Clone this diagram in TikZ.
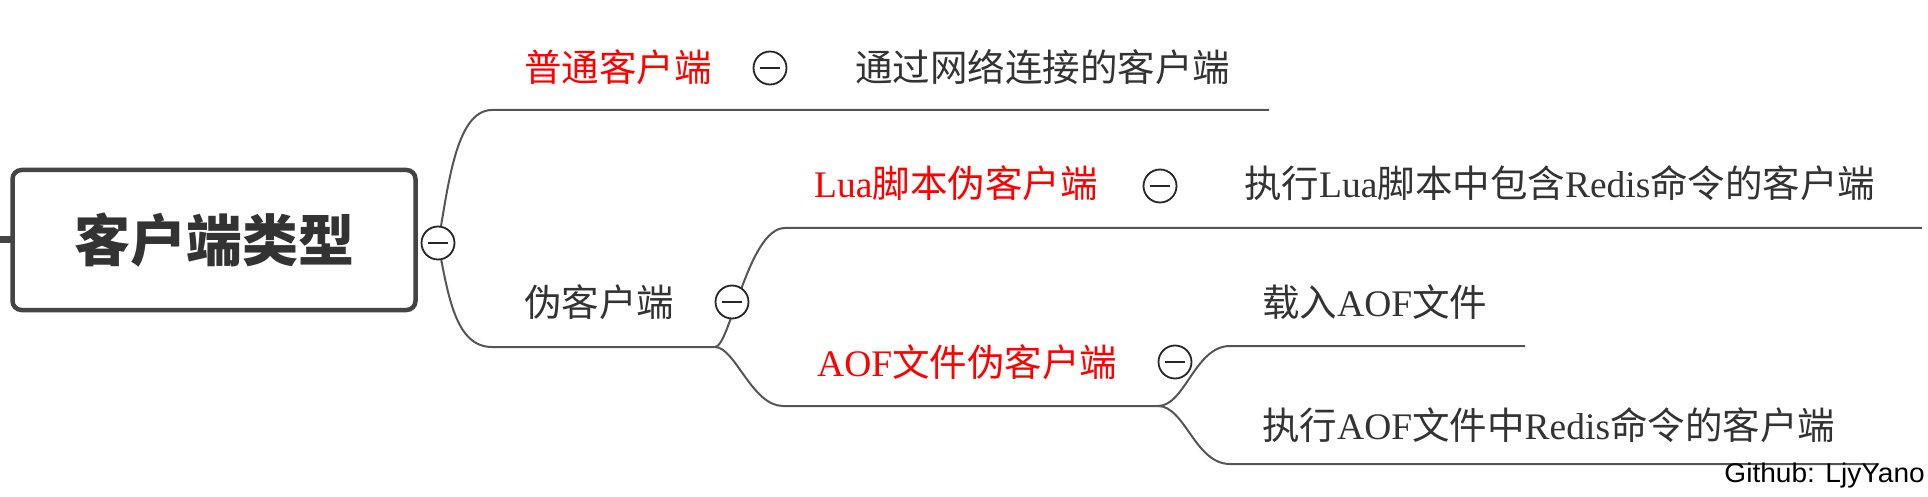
\documentclass[tikz,border=0pt]{standalone}
\usepackage{fontspec}
\usepackage{graphicx}
\setmainfont{Liberation Serif}
\newfontfamily\cjk{Noto Sans CJK SC}
\newfontfamily\gsans{Liberation Sans}
\newcommand\zh[1]{{\cjk #1}}
\definecolor{txt}{HTML}{333333}
\definecolor{ln}{HTML}{555555}
\definecolor{hl}{HTML}{FF0000}
\definecolor{rootc}{HTML}{444444}
\begin{document}
\begin{tikzpicture}[x=1pt,y=-1pt,
  conn/.style={draw=ln, line width=2pt},
  toggle/.style={circle, draw=black!85, line width=1.8pt, fill=white, minimum size=33pt, inner sep=0pt,
    path picture={\draw[line width=1.6pt] ([xshift=-10pt]path picture bounding box.center) -- ([xshift=10pt]path picture bounding box.center);}},
  lbl/.style={anchor=west, inner sep=0pt, text=txt, font=\fontsize{37.5}{40}\selectfont},
  hot/.style={lbl, text=hl},
  rootbox/.style={draw=rootc, line width=4.5pt, rounded corners=9pt, fill=white, minimum width=403pt, minimum height=140pt, inner sep=0pt, text=txt, font=\fontsize{56}{60}\selectfont\cjk\bfseries}]
\useasboundingbox (0,0) rectangle (1928,497);

\coordinate (stub) at (0,240);
\coordinate (j0) at (438,243);
\coordinate (a1) at (492,110); \coordinate (a2) at (1269,110);
\coordinate (b1) at (492,347); \coordinate (bj) at (715,347);
\coordinate (l1) at (785,228); \coordinate (l2) at (1922,228);
\coordinate (f1) at (783,406); \coordinate (fj) at (1158,406);
\coordinate (z1) at (1230,346); \coordinate (z2) at (1525,346);
\coordinate (e1) at (1230,464); \coordinate (e2) at (1878,464);

\draw[draw=rootc, line width=7pt] (stub) -- (100,240);
\node[rootbox] (root) at (214,240) {客户端类型};

\draw[conn] (j0) .. controls (448,190) and (455,110) .. (a1) -- (a2);
\draw[conn] (j0) .. controls (448,294) and (455,347) .. (b1) -- (bj);
\draw[conn] (bj) .. controls (730,347) and (748,228) .. (l1) -- (l2);
\draw[conn] (bj) .. controls (735,347) and (752,406) .. (f1) -- (fj);
\draw[conn] (fj) .. controls (1185,406) and (1195,346) .. (z1) -- (z2);
\draw[conn] (fj) .. controls (1185,406) and (1195,464) .. (e1) -- (e2);

\node[toggle] (t0) at (438,243) {};
\node[toggle] (t1) at (770,68) {};
\node[toggle] (t2) at (732,302) {};
\node[toggle] (t3) at (1160,186) {};
\node[toggle] (t4) at (1175,362) {};

\node[hot] (n1) at (524,67) {\zh{普通客户端}};
\node[lbl] (n11) at (855,67) {\zh{通过网络连接的客户端}};
\node[lbl] (n2) at (524,302) {\zh{伪客户端}};
\node[hot] (n21) at (814,183) {Lua\zh{脚本伪客户端}};
\node[lbl] (n211) at (1244,183) {\zh{执行}Lua\zh{脚本中包含}Redis\zh{命令的客户端}};
\node[hot] (n22) at (817,362) {AOF\zh{文件伪客户端}};
\node[lbl] (n221) at (1262,302) {\zh{载入}AOF\zh{文件}};
\node[lbl] (n222) at (1262,425) {\zh{执行}AOF\zh{文件中}Redis\zh{命令的客户端}};
\node[anchor=base east, inner sep=0pt, text=black, font=\gsans\fontsize{27}{29}\selectfont] (gh) at (1925,482) {\scalebox{1.04}[1]{Github: LjyYano}};
\end{tikzpicture}
\end{document}
